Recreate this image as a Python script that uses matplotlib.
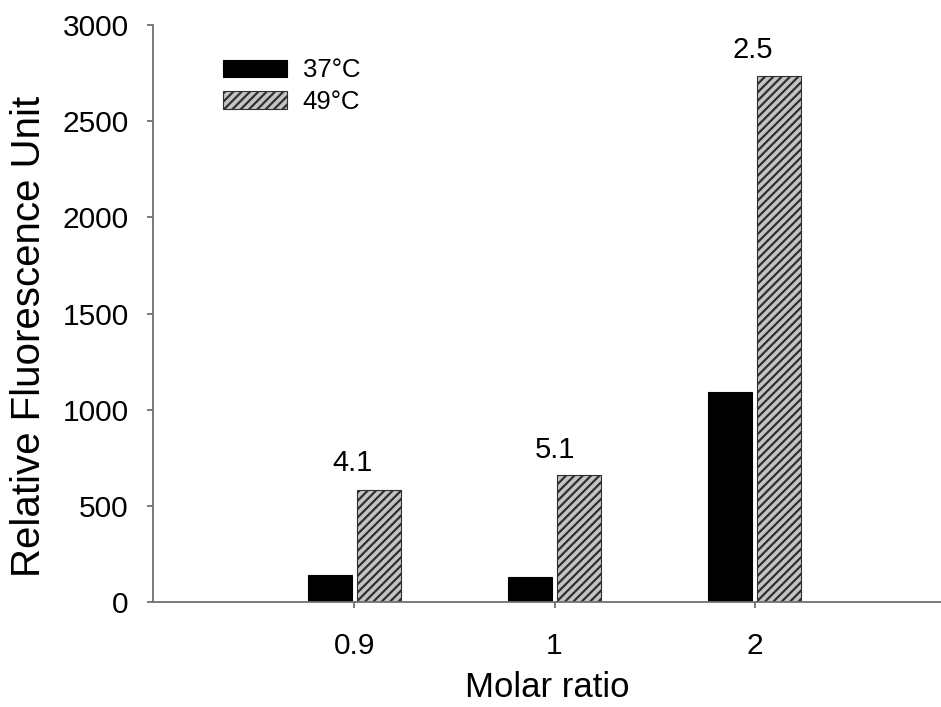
import numpy as np
import matplotlib
matplotlib.use("Agg")
from matplotlib import pyplot as plt

plt.rcParams['font.family'] = ['Liberation Sans', 'DejaVu Sans']
plt.rcParams['hatch.linewidth'] = 1.6

# Daten
ratios = ["0.9", "1", "2"]
rfu_37 = [142, 130, 1092]
rfu_49 = [582, 660, 2735]
fold_labels = ["4.1", "5.1", "2.5"]
label_x_offset = [-0.01, 0.0, -0.01]
label_y = [723, 790, 2870]

fig = plt.figure(figsize=(9.41, 7.07), dpi=100)
ax = fig.add_axes([0.1626, 0.1485, 0.8374, 0.8161])

x = np.arange(len(ratios))
w = 0.22
ax.bar(x - w / 2 - 0.012, rfu_37, w, color="black", edgecolor="black",
       linewidth=0.8, label="37°C")
ax.bar(x + w / 2 + 0.012, rfu_49, w, color="#c4c4c4", edgecolor="#303030",
       hatch="////", linewidth=0.8, label="49°C")

for i, t in enumerate(fold_labels):
    ax.text(x[i] + label_x_offset[i], label_y[i], t, ha="center", va="center",
            fontsize=21)

ax.set_xlim(-1.005, 2.93)
ax.set_ylim(0, 3000)
ax.set_xticks(x)
ax.set_xticklabels(ratios)
ax.set_yticks(np.arange(0, 3001, 500))

for s in ["top", "right"]:
    ax.spines[s].set_visible(False)
for s in ["left", "bottom"]:
    ax.spines[s].set_color("#707070")
    ax.spines[s].set_linewidth(1.3)
ax.tick_params(axis="both", colors="#707070", labelcolor="black",
               labelsize=21.5, length=4.5, width=1.3)
ax.tick_params(axis="y", pad=13)
ax.tick_params(axis="x", pad=17)

ax.set_xlabel("Molar ratio", fontsize=25, labelpad=8)
ax.set_ylabel("Relative Fluorescence Unit", fontsize=29)
ax.yaxis.set_label_coords(-0.133, 0.461)

ax.legend(loc="upper left", bbox_to_anchor=(0.089, 0.942), frameon=False,
          borderpad=0, borderaxespad=0,
          fontsize=18.5, handlelength=2.5, handleheight=0.7,
          handletextpad=0.6, labelspacing=0.3)

fig.savefig("out.png", dpi=100)
